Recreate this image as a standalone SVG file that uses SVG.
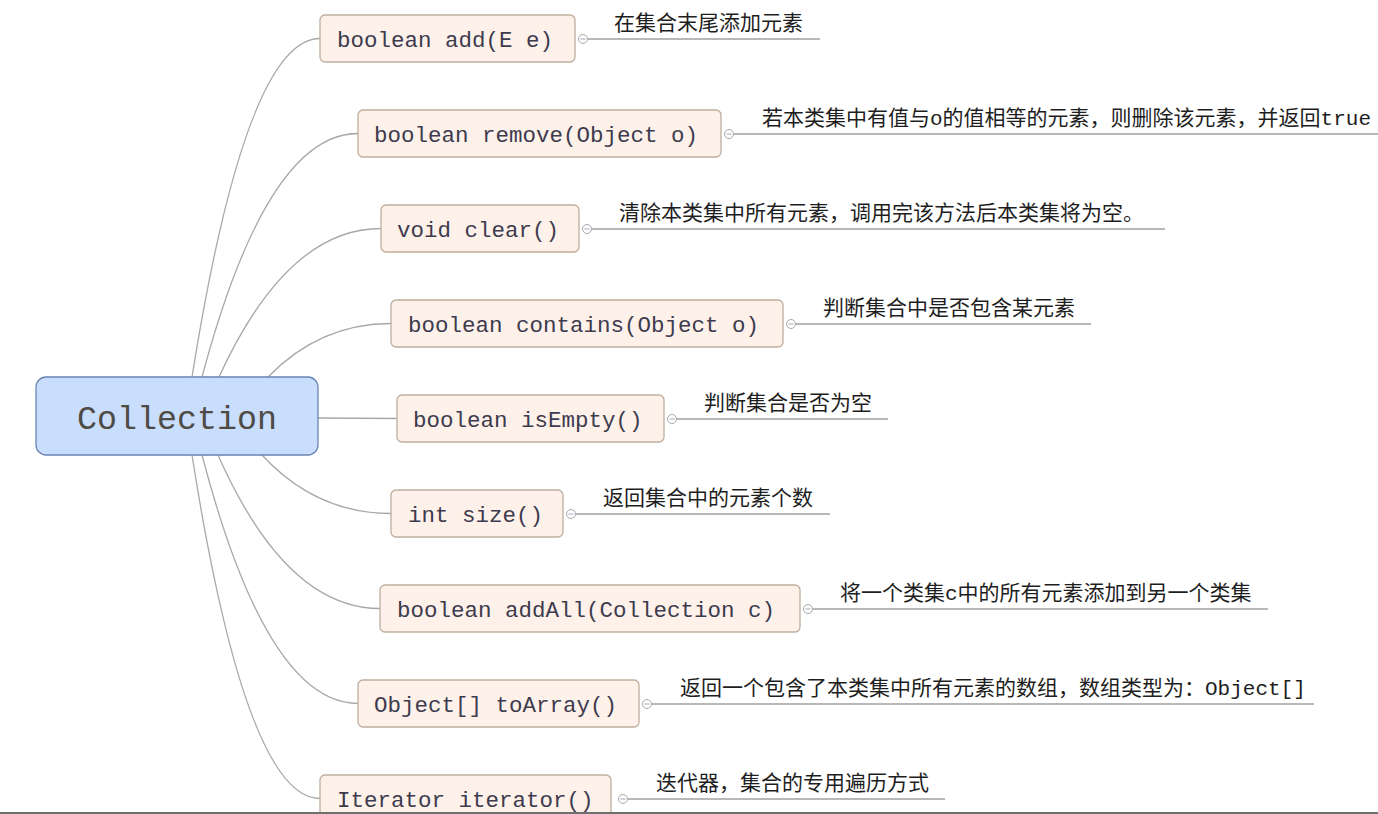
<svg xmlns="http://www.w3.org/2000/svg" width="1378" height="814" viewBox="0 0 1378 814">
<style>
.bg{fill:#ffffff}
.conn{fill:none;stroke:#a8a8a8;stroke-width:1.3}
.root rect{fill:#c9ddfc;stroke:#6a84b4;stroke-width:1.3}
.root text{font-family:"Liberation Mono","DejaVu Sans Mono",monospace;font-size:33.3px;fill:#4e4a44;text-anchor:middle}
.node rect{fill:#fdf1ea;stroke:#bfae9f;stroke-width:1.3}
.node text.lbl{font-family:"Liberation Mono","DejaVu Sans Mono",monospace;font-size:22.5px;fill:#3d3b4e}
.node line{stroke:#a0a0a0;stroke-width:1.4}
.node circle{fill:#ffffff;stroke:#a8a8a8;stroke-width:1}
.node path.minus{stroke:#9aaac0;stroke-width:1}
.node text.desc{font-family:"Liberation Mono","Noto Sans CJK SC",monospace;font-size:21px;fill:#1e1e1e}
</style>
<rect class="bg" x="0" y="0" width="1378" height="814"/>
<g id="connectors">
<path class="conn" d="M192,377 Q246,38.5 320,38.5"/>
<path class="conn" d="M202,377 Q267,133.5 358,133.5"/>
<path class="conn" d="M219,377 Q287,228.5 381,228.5"/>
<path class="conn" d="M268,377 Q320,323.5 391,323.5"/>
<path class="conn" d="M318,418 L397,418.5"/>
<path class="conn" d="M262,455 Q316,513.5 391,513.5"/>
<path class="conn" d="M218,455 Q286,608.5 380,608.5"/>
<path class="conn" d="M202,455 Q267,703.5 358,703.5"/>
<path class="conn" d="M192,455 Q246,798.5 320,798.5"/>
</g>
<g id="root" class="root">
<rect x="36" y="377" width="282" height="78" rx="10"/>
<text x="177" y="429">Collection</text>
</g>
<g id="n-add" class="node">
<rect x="320" y="15" width="255" height="47" rx="5"/>
<text class="lbl" x="337" y="47">boolean add(E e)</text>
<line x1="587" y1="39" x2="820" y2="39"/>
<circle cx="583" cy="39" r="4.5"/><path class="minus" d="M580.5,39 H585.5"/>
<text class="desc" x="614" y="30">在集合末尾添加元素</text>
</g>
<g id="n-remove" class="node">
<rect x="358" y="110" width="363" height="47" rx="5"/>
<text class="lbl" x="374" y="142">boolean remove(Object o)</text>
<line x1="733.5" y1="134" x2="1378" y2="134"/>
<circle cx="729" cy="134" r="4.5"/><path class="minus" d="M726.5,134 H731.5"/>
<text class="desc" x="762" y="125">若本类集中有值与o的值相等的元素，则删除该元素，并返回true</text>
</g>
<g id="n-clear" class="node">
<rect x="381" y="205" width="198" height="47" rx="5"/>
<text class="lbl" x="397" y="237">void clear()</text>
<line x1="591.5" y1="229" x2="1165" y2="229"/>
<circle cx="587" cy="229" r="4.5"/><path class="minus" d="M584.5,229 H589.5"/>
<text class="desc" x="619" y="220">清除本类集中所有元素，调用完该方法后本类集将为空。</text>
</g>
<g id="n-contains" class="node">
<rect x="391" y="300" width="392" height="47" rx="5"/>
<text class="lbl" x="408" y="332">boolean contains(Object o)</text>
<line x1="795.5" y1="324" x2="1091" y2="324"/>
<circle cx="791" cy="324" r="4.5"/><path class="minus" d="M788.5,324 H793.5"/>
<text class="desc" x="823" y="315">判断集合中是否包含某元素</text>
</g>
<g id="n-isempty" class="node">
<rect x="397" y="395" width="267" height="47" rx="5"/>
<text class="lbl" x="413" y="427">boolean isEmpty()</text>
<line x1="676.5" y1="419" x2="888" y2="419"/>
<circle cx="672" cy="419" r="4.5"/><path class="minus" d="M669.5,419 H674.5"/>
<text class="desc" x="704" y="410">判断集合是否为空</text>
</g>
<g id="n-size" class="node">
<rect x="391" y="490" width="172" height="47" rx="5"/>
<text class="lbl" x="408" y="522">int size()</text>
<line x1="575.5" y1="514" x2="830" y2="514"/>
<circle cx="571" cy="514" r="4.5"/><path class="minus" d="M568.5,514 H573.5"/>
<text class="desc" x="603" y="505">返回集合中的元素个数</text>
</g>
<g id="n-addall" class="node">
<rect x="380" y="585" width="420" height="47" rx="5"/>
<text class="lbl" x="397" y="617">boolean addAll(Collection c)</text>
<line x1="812.5" y1="609" x2="1268" y2="609"/>
<circle cx="808" cy="609" r="4.5"/><path class="minus" d="M805.5,609 H810.5"/>
<text class="desc" x="840" y="600">将一个类集c中的所有元素添加到另一个类集</text>
</g>
<g id="n-toarray" class="node">
<rect x="358" y="680" width="281" height="47" rx="5"/>
<text class="lbl" x="374" y="712">Object[] toArray()</text>
<line x1="651.5" y1="704" x2="1314" y2="704"/>
<circle cx="647" cy="704" r="4.5"/><path class="minus" d="M644.5,704 H649.5"/>
<text class="desc" x="680" y="695">返回一个包含了本类集中所有元素的数组，数组类型为：Object[]</text>
</g>
<g id="n-iterator" class="node">
<rect x="320" y="775" width="291" height="47" rx="5"/>
<text class="lbl" x="337" y="807">Iterator iterator()</text>
<line x1="627.5" y1="799" x2="945" y2="799"/>
<circle cx="623" cy="799" r="4.5"/><path class="minus" d="M620.5,799 H625.5"/>
<text class="desc" x="656" y="790">迭代器，集合的专用遍历方式</text>
</g>
<rect x="0" y="812" width="1378" height="2" fill="#6e6e6e"/>
</svg>
